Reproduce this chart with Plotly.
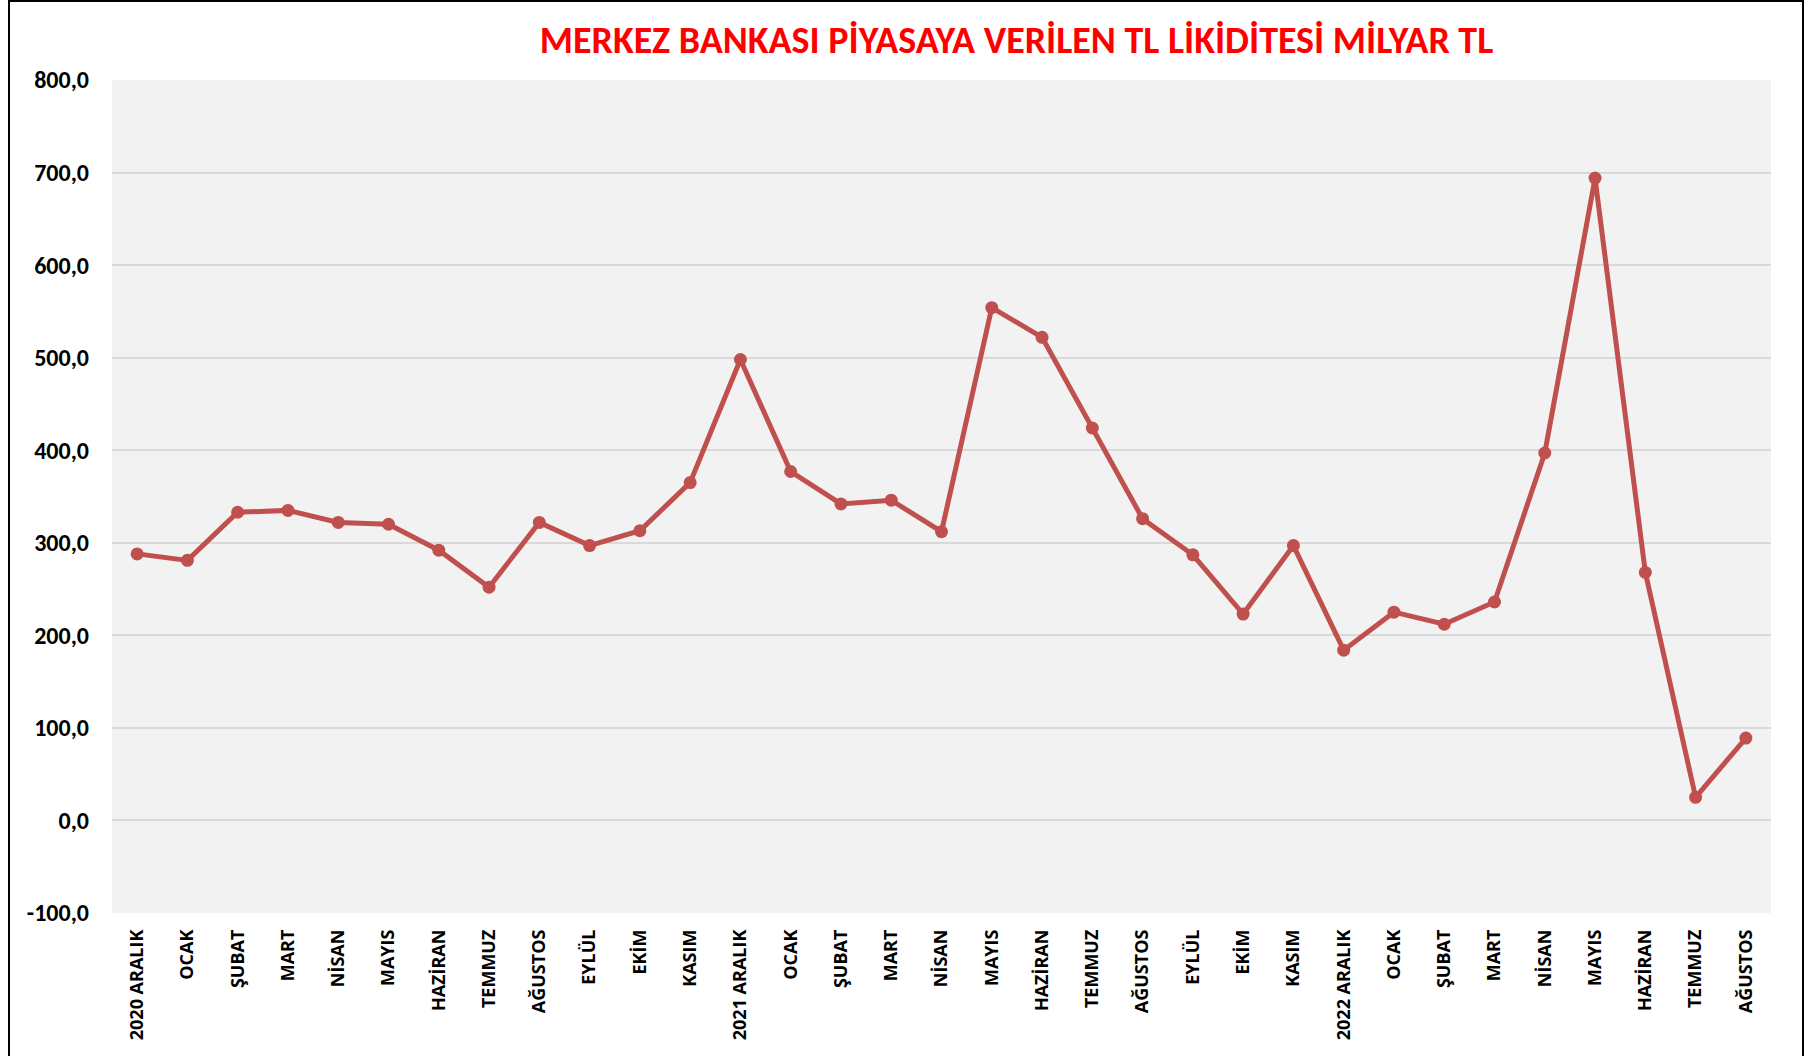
import plotly.graph_objects as go

categories = ["2020 ARALIK", "OCAK", "ŞUBAT", "MART", "NİSAN", "MAYIS", "HAZİRAN", "TEMMUZ",
              "AĞUSTOS", "EYLÜL", "EKİM", "KASIM", "2021 ARALIK", "OCAK", "ŞUBAT", "MART",
              "NİSAN", "MAYIS", "HAZİRAN", "TEMMUZ", "AĞUSTOS", "EYLÜL", "EKİM", "KASIM",
              "2022 ARALIK", "OCAK", "ŞUBAT", "MART", "NİSAN", "MAYIS", "HAZİRAN", "TEMMUZ",
              "AĞUSTOS"]
values = [288, 281, 333, 335, 322, 320, 292, 252, 322, 297, 313, 365, 498, 377, 342, 346,
          312, 554, 522, 424, 326, 287, 223, 297, 184, 225, 212, 236, 397, 694, 268, 25, 89]
y_ticks = [-100, 0, 100, 200, 300, 400, 500, 600, 700, 800]
y_tick_labels = ["-100,0", "0,0", "100,0", "200,0", "300,0", "400,0", "500,0", "600,0", "700,0", "800,0"]
title_text = "MERKEZ BANKASI PİYASAYA VERİLEN TL LİKİDİTESİ MİLYAR TL"

idx = list(range(len(categories)))

fig = go.Figure()
fig.add_trace(go.Scatter(
    x=idx, y=values, mode="lines+markers",
    line=dict(color="#C0504D", width=5),
    marker=dict(color="#C0504D", size=13),
    hoverinfo="y",
))

fig.update_layout(
    width=1812, height=1056,
    margin=dict(l=112, r=41, t=80, b=143),
    paper_bgcolor="white",
    plot_bgcolor="#F2F2F2",
    showlegend=False,
    title=dict(text=title_text, x=0.561, xanchor="center", y=0.962, yanchor="middle",
               font=dict(family="Carlito, Open Sans, sans-serif", size=38, color="#FF0000", weight="bold")),
    xaxis=dict(
        tickmode="array", tickvals=idx, ticktext=categories,
        range=[-0.5, len(categories) - 0.5],
        tickangle=-90, showgrid=False, zeroline=False, showline=False,
        tickfont=dict(family="Open Sans", size=18, color="black", weight="bold"),
        ticks="", ticklabelstandoff=12,
    ),
    yaxis=dict(
        tickmode="array", tickvals=y_ticks, ticktext=y_tick_labels,
        range=[-100, 800], showgrid=True, gridcolor="#D9D9D9", gridwidth=2,
        zeroline=False, showline=False, ticks="", ticklabelstandoff=22,
        tickfont=dict(family="Carlito, Open Sans, sans-serif", size=24, color="black", weight="bold"),
    ),
    shapes=[dict(type="rect", xref="paper", yref="paper",
                 x0=(9 - 112) / 1659, x1=(1803 - 112) / 1659,
                 y0=(913 - 1070) / 833, y1=(913 - 1) / 833,
                 line=dict(color="black", width=2), fillcolor="rgba(0,0,0,0)", layer="below")],
)

fig.write_html("out.html", config={"displayModeBar": False},
               post_script="document.body.style.margin='0';")
